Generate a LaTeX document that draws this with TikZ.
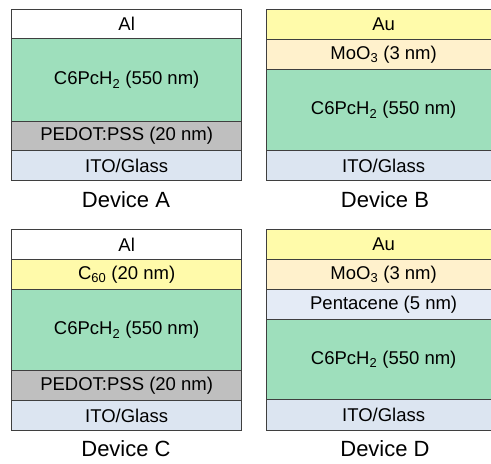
\documentclass[tikz,border=0pt]{standalone}
\usepackage{fontspec}
\setmainfont{Liberation Sans}
\definecolor{alc}{HTML}{FFFFFF}
\definecolor{greenc}{HTML}{9EDFBC}
\definecolor{pedotc}{HTML}{BFBFBF}
\definecolor{itoc}{HTML}{DCE5F1}
\definecolor{auc}{HTML}{FFFBAA}
\definecolor{mooc}{HTML}{FFF1CC}
\definecolor{pentc}{HTML}{E4EBF6}
\definecolor{cskyc}{HTML}{FFFAAA}
\definecolor{linec}{HTML}{3F3F3F}
\tikzset{
  layer/.style={draw=linec, line width=1.3pt, inner sep=0pt, anchor=north west,
    font=\fontsize{18.5}{20}\selectfont, text=black},
  devlabel/.style={anchor=base, font=\fontsize{22}{24}\selectfont, text=black}
}
% #1 name, #2 x, #3 ytop, #4 height, #5 width, #6 fill, #7 text
\newcommand{\lay}[7]{\node[layer, fill=#6, minimum width=#5pt, minimum height=#4pt] (#1) at (#2,#3) {#7};}
\begin{document}
\begin{tikzpicture}[x=1pt,y=-1pt]
\clip (0,0) rectangle (491,464);
\fill[white] (0,0) rectangle (491,464);
% Device A
\lay{aal}{11}{9}{29}{230}{alc}{Al}
\lay{apc}{11}{38}{83}{230}{greenc}{C6PcH\textsubscript{2} (550 nm)}
\lay{ape}{11}{121}{29}{230}{pedotc}{PEDOT:PSS (20 nm)}
\lay{aito}{11}{150}{30}{230}{itoc}{ITO/Glass}
\node[devlabel] (la) at (126,207) {Device A};
% Device B
\lay{bau}{266}{9}{30}{234}{auc}{Au}
\lay{bmo}{266}{39}{30}{234}{mooc}{MoO\textsubscript{3} (3 nm)}
\lay{bpc}{266}{69}{81}{234}{greenc}{C6PcH\textsubscript{2} (550 nm)}
\lay{bito}{266}{150}{30}{234}{itoc}{ITO/Glass}
\node[devlabel] (lb) at (385,207) {Device B};
% Device C
\lay{cal}{11}{229}{30}{230}{alc}{Al}
\lay{cc}{11}{259}{30}{230}{cskyc}{C\textsubscript{60} (20 nm)}
\lay{cpc}{11}{289}{81}{230}{greenc}{C6PcH\textsubscript{2} (550 nm)}
\lay{cpe}{11}{370}{30}{230}{pedotc}{PEDOT:PSS (20 nm)}
\lay{cito}{11}{400}{30}{230}{itoc}{ITO/Glass}
\node[devlabel] (lc) at (126,456) {Device C};
% Device D
\lay{dau}{266}{229}{30}{234}{auc}{Au}
\lay{dmo}{266}{259}{30}{234}{mooc}{MoO\textsubscript{3} (3 nm)}
\lay{dpen}{266}{289}{30}{234}{pentc}{Pentacene (5 nm)}
\lay{dpc}{266}{319}{80}{234}{greenc}{C6PcH\textsubscript{2} (550 nm)}
\lay{dito}{266}{399}{31}{234}{itoc}{ITO/Glass}
\node[devlabel] (ld) at (385,456) {Device D};
\end{tikzpicture}
\end{document}
